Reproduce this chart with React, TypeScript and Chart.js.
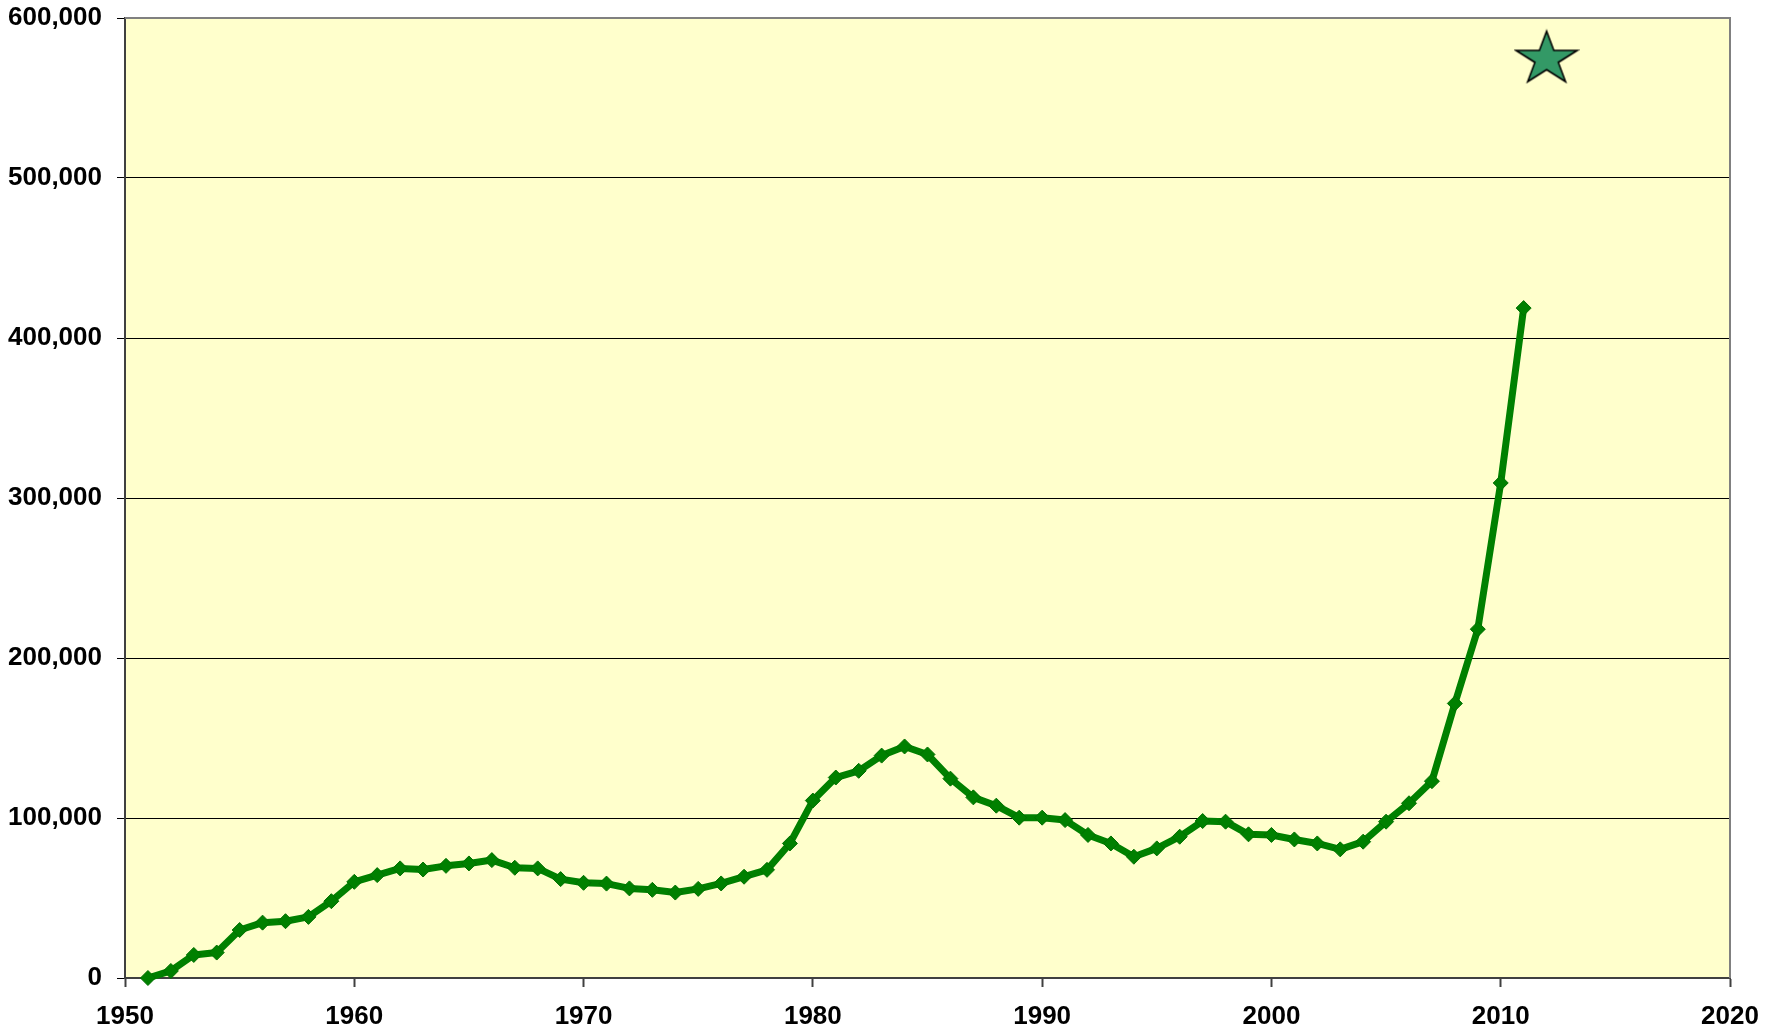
import React, { useEffect, useRef } from 'react';
import { Chart, registerables } from 'chart.js';

Chart.register(...registerables);

const W = 1781;
const H = 1032;

const years = [
  1951, 1952, 1953, 1954, 1955, 1956, 1957, 1958, 1959, 1960,
  1961, 1962, 1963, 1964, 1965, 1966, 1967, 1968, 1969, 1970,
  1971, 1972, 1973, 1974, 1975, 1976, 1977, 1978, 1979, 1980,
  1981, 1982, 1983, 1984, 1985, 1986, 1987, 1988, 1989, 1990,
  1991, 1992, 1993, 1994, 1995, 1996, 1997, 1998, 1999, 2000,
  2001, 2002, 2003, 2004, 2005, 2006, 2007, 2008, 2009, 2010,
  2011,
];

const values = [
  0, 4400, 14400, 15900, 30000, 34600, 35500, 38200, 48000, 60100,
  64300, 68500, 67800, 70100, 71600, 73700, 68900, 68500, 61800, 59500,
  59000, 56000, 55100, 53400, 55700, 59100, 63300, 67600, 84100, 110900,
  125300, 129500, 139000, 144700, 139700, 124600, 112900, 107700, 100200, 100200,
  98700, 89400, 84100, 75800, 81000, 88300, 98100, 97700, 89800, 89400,
  86600, 84100, 80400, 85200, 97700, 109200, 123000, 171600, 218000, 309400,
  418700,
];

const starYears = [2012];
const starValues = [576000];

const xTicks = [1950, 1960, 1970, 1980, 1990, 2000, 2010, 2020];
const yTicks = [0, 100000, 200000, 300000, 400000, 500000, 600000];

function makeStar(): HTMLCanvasElement {
  const c = document.createElement('canvas');
  const cw = 66;
  const ch = 56;
  c.width = cw;
  c.height = ch;
  const ctx = c.getContext('2d')!;
  const R = 32.2;
  const sy = 0.866;
  const top = R * sy;
  const bottom = R * Math.cos(Math.PI / 5) * sy;
  const cx = cw / 2;
  const cy = ch / 2 + (top - bottom) / 2;
  ctx.beginPath();
  for (let k = 0; k < 10; k++) {
    const a = -Math.PI / 2 + (k * Math.PI) / 5;
    const r = k % 2 === 0 ? R : R * 0.382;
    const px = cx + r * Math.cos(a);
    const py = cy + r * Math.sin(a) * sy;
    if (k === 0) ctx.moveTo(px, py);
    else ctx.lineTo(px, py);
  }
  ctx.closePath();
  ctx.fillStyle = '#339966';
  ctx.fill();
  ctx.lineWidth = 1.6;
  ctx.lineJoin = 'miter';
  ctx.strokeStyle = '#000000';
  ctx.stroke();
  return c;
}

const plotBg = {
  id: 'plotBg',
  beforeDraw(chart: any) {
    const { ctx, chartArea: a } = chart;
    ctx.save();
    ctx.fillStyle = '#FFFFCC';
    ctx.fillRect(a.left, a.top, a.right - a.left, a.bottom - a.top);
    ctx.restore();
  },
  beforeDatasetsDraw(chart: any) {
    const { ctx, chartArea: a } = chart;
    ctx.save();
    ctx.strokeStyle = '#808080';
    ctx.lineWidth = 2;
    ctx.beginPath();
    ctx.moveTo(a.left, a.top);
    ctx.lineTo(a.right, a.top);
    ctx.lineTo(a.right, a.bottom);
    ctx.stroke();
    ctx.restore();
  },
};

const fontFamily = "'Liberation Sans', Arial, sans-serif";
const xFont = { family: fontFamily, weight: 'bold' as const, size: 26 };
const yFont = { family: fontFamily, weight: 'bold' as const, size: 26, lineHeight: 0.1 };

export default function App() {
  const ref = useRef<HTMLCanvasElement>(null);

  useEffect(() => {
    const star = makeStar();
    const chart = new Chart(ref.current!, {
      type: 'line',
      data: {
        datasets: [
          {
            data: years.map((y, i) => ({ x: y, y: values[i] })),
            borderColor: '#008000',
            backgroundColor: '#008000',
            borderWidth: 7,
            borderJoinStyle: 'round',
            borderCapStyle: 'round',
            pointStyle: 'rectRot',
            pointRadius: 7.5,
            pointBorderWidth: 1,
            pointBackgroundColor: '#008000',
            pointBorderColor: '#007000',
            tension: 0,
            clip: false,
          } as any,
          {
            data: starYears.map((y, i) => ({ x: y, y: starValues[i] })),
            showLine: false,
            pointStyle: star,
            pointRadius: 30,
            clip: false,
          } as any,
        ],
      },
      options: {
        responsive: false,
        animation: false,
        devicePixelRatio: 1,
        layout: { autoPadding: false, padding: { left: 0, top: 18, right: 51, bottom: 0 } },
        plugins: {
          legend: { display: false },
          tooltip: { enabled: false },
        },
        scales: {
          x: {
            type: 'linear',
            min: 1950,
            max: 2020,
            afterBuildTicks: (s: any) => {
              s.ticks = xTicks.map((v) => ({ value: v }));
            },
            ticks: {
              callback: (v: any) => String(v),
              font: xFont,
              color: '#000000',
              padding: 14,
              maxRotation: 0,
              autoSkip: false,
            },
            grid: {
              drawOnChartArea: false,
              drawTicks: true,
              tickLength: 9,
              tickColor: '#404040',
              tickWidth: 2,
            },
            border: { color: '#404040', width: 2 },
            afterFit: (s: any) => {
              s.height = 54;
            },
          },
          y: {
            type: 'linear',
            min: 0,
            max: 600000,
            afterBuildTicks: (s: any) => {
              s.ticks = yTicks.map((v) => ({ value: v }));
            },
            ticks: {
              callback: (v: any) => Number(v).toLocaleString('en-US'),
              font: yFont,
              color: '#000000',
              padding: 15,
              autoSkip: false,
            },
            grid: {
              color: '#000000',
              lineWidth: 1,
              tickLength: 8,
              tickColor: '#000000',
            },
            border: { color: '#404040', width: 2 },
            afterFit: (s: any) => {
              s.width = 125;
            },
          },
        },
      } as any,
      plugins: [plotBg],
    });
    return () => chart.destroy();
  }, []);

  return (
    <div style={{ position: 'absolute', left: 0, top: 0, width: W, height: H }}>
      <canvas ref={ref} width={W} height={H} style={{ width: W, height: H, display: 'block' }} />
    </div>
  );
}
